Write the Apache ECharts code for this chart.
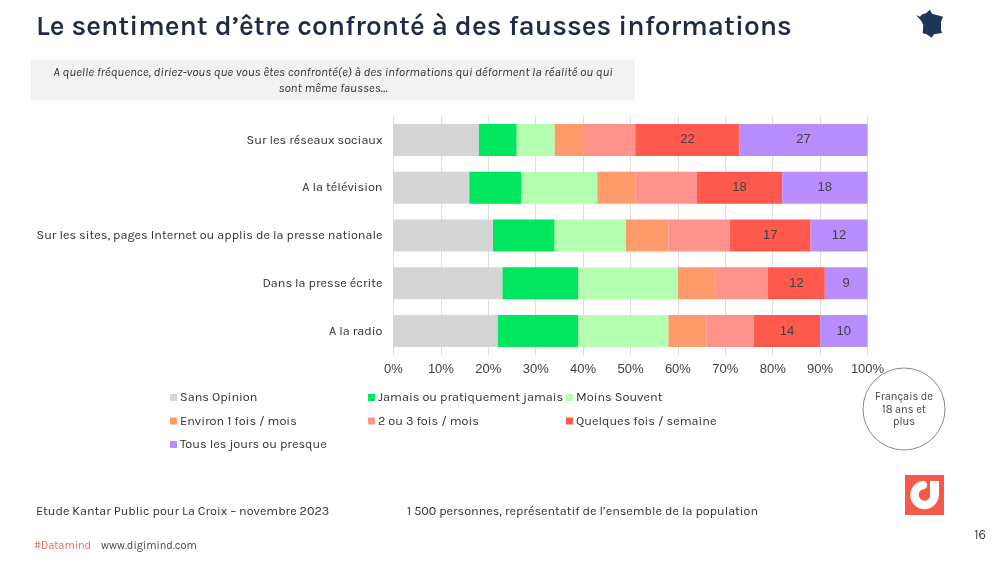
<!DOCTYPE html>
<html><head><meta charset="utf-8">
<style>html,body{margin:0;padding:0;background:#fff}#c{width:1000px;height:566px}</style>
<script src="https://cdn.jsdelivr.net/npm/echarts@6/dist/echarts.min.js"></script></head>
<body><div id="c"></div>
<script>
const categories = ["Sur les réseaux sociaux","A la télévision","Sur les sites, pages Internet ou applis de la presse nationale","Dans la presse écrite","A la radio"];
const seriesNames = ["Sans Opinion","Jamais ou pratiquement jamais","Moins Souvent","Environ 1 fois / mois","2 ou 3 fois / mois","Quelques fois / semaine","Tous les jours ou presque"];
const sansOpinion = [18,16,21,23,22];
const jamais = [8,11,13,16,17];
const moinsSouvent = [8,16,15,21,19];
const environ1 = [6,8,9,8,8];
const deuxTrois = [11,13,13,11,10];
const quelques = [22,18,17,12,14];
const tousLesJours = [27,18,12,9,10];
const values = [sansOpinion,jamais,moinsSouvent,environ1,deuxTrois,quelques,tousLesJours];
const colors = ["#D5D5D5","#00E65F","#B4FFB0","#FF9B6A","#FF928A","#FF5A4D","#B88EFF"];
const labelled = [false,false,false,false,false,true,true];
const ink = "#1f2a44", UI = "Karla, Lato, 'Open Sans', sans-serif";
const legendCols = [[0,3,6],[1,4],[2,5]];
const legendX = [170,368,566];

const txt = (x,y,text,size,fill,extra={}) => ({type:'text',x,y,silent:true,
  style:Object.assign({text,fontSize:size,fill,fontFamily:UI,textVerticalAlign:'middle'},extra)});

const chart = echarts.init(document.getElementById('c'),null,{renderer:'canvas'});
chart.setOption({
  animation:false,
  backgroundColor:'#fff',
  grid:{left:393.5,right:132.5,top:116,bottom:211,containLabel:false},
  xAxis:{type:'value',min:0,max:100,interval:10,
    axisLabel:{formatter:'{value}%',color:'#404040',fontSize:13,fontFamily:'Liberation Sans',margin:8},
    axisLine:{show:false},axisTick:{show:false},
    splitLine:{show:true,lineStyle:{color:'#DEDEDE',width:1}}},
  yAxis:{type:'category',inverse:true,data:categories,
    axisLabel:{color:'#303030',fontSize:12.67,fontFamily:UI,margin:11},
    axisLine:{show:false},axisTick:{show:false}},
  legend:legendCols.map((idx,i)=>({
    left:legendX[i],top:390,orient:'vertical',itemWidth:7,itemHeight:7,itemGap:8.5,
    icon:'rect',selectedMode:false,padding:0,
    textStyle:{color:'#303030',fontSize:12.7,fontFamily:UI,padding:[0,0,0,-2],lineHeight:15},
    data:idx.map(k=>seriesNames[k])})),
  series:seriesNames.map((name,i)=>({
    name,type:'bar',stack:'total',barWidth:32,data:values[i],
    itemStyle:{color:colors[i]},
    label:{show:labelled[i],position:'inside',color:'#404040',fontSize:13,fontFamily:'Liberation Sans'}
  })),
  graphic:[
    txt(36,27.5,"Le sentiment d’être confronté à des fausses informations",28.08,ink,{fontWeight:600}),
    {type:'rect',shape:{x:31,y:60,width:604,height:40},style:{fill:'#F2F2F2'},silent:true},
    txt(333,72,"A quelle fréquence, diriez-vous que vous êtes confronté(e) à des informations qui déforment la réalité ou qui",12.58,'#303030',{textAlign:'center',fontStyle:'italic'}),
    txt(333,88,"sont même fausses…",12.58,'#303030',{textAlign:'center',fontStyle:'italic'}),
    {type:'polygon',silent:true,shape:{points:[[916,15],[920,16.7],[922.3,14.3],[926,13.3],[930,9.7],[932,13.7],[943,16.7],[941,21.7],[941,30],[942,33],[934,34.3],[931.7,37.7],[926.7,34.3],[922.7,33.3],[923.3,25],[921.3,21]]},style:{fill:'#1D3557'}},
    {type:'circle',silent:true,shape:{cx:904,cy:409,r:41},style:{fill:'none',stroke:'#888',lineWidth:1}},
    txt(904,397,"Français de",11,'#444',{textAlign:'center'}),
    txt(904,409.5,"18 ans et",11,'#444',{textAlign:'center'}),
    txt(904,422,"plus",11,'#444',{textAlign:'center'}),
    {type:'rect',silent:true,shape:{x:905,y:475,width:39,height:40},style:{fill:'#F5594A'}},
    {type:'arc',silent:true,shape:{cx:924.5,cy:495,r:10,startAngle:0,endAngle:Math.PI*1.45,clockwise:true},style:{stroke:'#fff',fill:'none',lineWidth:8.5,lineCap:'round'}},
    {type:'line',silent:true,shape:{x1:934.5,y1:481,x2:934.5,y2:496},style:{stroke:'#fff',lineWidth:9}},
    txt(980,535,"16",13,'#444',{textAlign:'center'}),
    txt(36,511,"Etude Kantar Public pour La Croix – novembre 2023",12.6,'#303030'),
    txt(407,511,"1 500 personnes, représentatif de l’ensemble de la population",12.6,'#303030'),
    txt(34,545.5,"#Datamind",11,'#EE6A5F'),
    txt(101,545.5,"www.digimind.com",11,'#444')
  ]
});
</script></body></html>
